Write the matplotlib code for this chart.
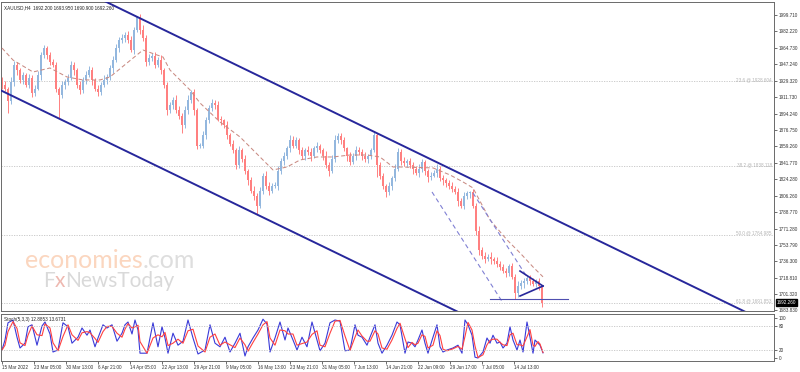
import numpy as np
import matplotlib
matplotlib.use("Agg")
import matplotlib.pyplot as plt

plt.rcParams['font.family'] = ['Liberation Sans', 'DejaVu Sans']

title = "XAUUSD,H4  1692.200 1693.950 1690.900 1692.260"

# H4 candles, one entry for every 3 bars of the chart
first_open = 1930.0
closes = [
    1925, 1921, 1908, 1928, 1946, 1941, 1930, 1935, 1925, 1932,
    1916, 1921, 1935, 1957, 1964, 1957, 1949, 1946, 1921, 1914,
    1925, 1928, 1932, 1946, 1941, 1925, 1919, 1930, 1935, 1941,
    1930, 1921, 1917, 1925, 1930, 1933, 1943, 1952, 1964, 1973,
    1975, 1978, 1973, 1962, 1984, 1997, 1984, 1975, 1949, 1954,
    1956, 1946, 1952, 1941, 1925, 1898, 1903, 1909, 1898, 1892,
    1882, 1898, 1909, 1917, 1898, 1860, 1860, 1871, 1887, 1900,
    1906, 1903, 1889, 1887, 1882, 1871, 1862, 1855, 1839, 1855,
    1846, 1833, 1823, 1812, 1806, 1796, 1812, 1828, 1817, 1812,
    1817, 1817, 1833, 1844, 1849, 1857, 1866, 1860, 1866, 1855,
    1849, 1855, 1853, 1849, 1857, 1860, 1855, 1849, 1839, 1833,
    1846, 1866, 1870, 1866, 1857, 1849, 1842, 1849, 1855, 1853,
    1849, 1846, 1849, 1855, 1871, 1839, 1828, 1817, 1810, 1817,
    1825, 1835, 1853, 1844, 1841, 1844, 1839, 1835, 1831, 1835,
    1842, 1833, 1826, 1828, 1831, 1835, 1825, 1823, 1820, 1817,
    1814, 1810, 1801, 1796, 1806, 1809, 1810, 1796, 1769, 1749,
    1742, 1739, 1741, 1739, 1737, 1734, 1730, 1726, 1724, 1731,
    1720, 1702, 1710, 1713, 1715, 1719, 1715, 1712, 1715, 1710,
    1692.26]
wick_up = [
    3, 4, 2, 5, 4, 3, 2, 4, 3, 5, 3, 4, 5, 3, 4, 2, 3, 4, 3, 2,
    4, 3, 5, 4, 3, 2, 4, 3, 5, 4, 3, 2, 4, 3, 5, 4, 3, 4, 5, 3,
    4, 3, 5, 4, 3, 2, 4, 5, 3, 4, 3, 4, 3, 5, 2, 3, 4, 3, 5, 4,
    3, 4, 5, 3, 4, 2, 3, 5, 4, 3, 4, 3, 5, 3, 2, 4, 3, 4, 3, 5,
    3, 4, 2, 3, 5, 3, 4, 3, 5, 4, 3, 4, 5, 3, 4, 3, 5, 4, 3, 2,
    4, 3, 5, 4, 3, 4, 2, 3, 5, 3, 4, 5, 3, 4, 3, 2, 4, 3, 5, 4,
    3, 4, 2, 3, 5, 3, 4, 3, 2, 4, 3, 5, 4, 3, 4, 2, 3, 4, 3, 5,
    4, 3, 2, 4, 3, 5, 3, 4, 2, 3, 4, 3, 5, 3, 4, 3, 2, 4, 3, 5,
    3, 4, 3, 5, 2, 4, 3, 4, 3, 2, 4, 3, 5, 3, 4, 2, 3, 4, 3, 4,
    1]
wick_dn = [
    4, 3, 13, 3, 4, 5, 3, 4, 2, 3, 4, 3, 2, 5, 3, 4, 3, 2, 4, 24,
    3, 4, 3, 2, 5, 3, 4, 3, 4, 2, 5, 3, 4, 3, 2, 4, 3, 5, 3, 4,
    3, 4, 3, 2, 4, 3, 5, 3, 4, 3, 4, 3, 2, 4, 3, 5, 3, 4, 3, 4,
    9, 3, 4, 3, 5, 4, 3, 2, 4, 3, 3, 4, 3, 5, 3, 4, 2, 3, 4, 3,
    4, 3, 5, 3, 4, 9, 3, 4, 3, 5, 3, 2, 4, 3, 5, 3, 4, 3, 2, 4,
    3, 4, 3, 5, 2, 4, 3, 4, 3, 5, 2, 4, 3, 4, 3, 5, 3, 2, 4, 3,
    4, 3, 5, 3, 2, 13, 4, 3, 5, 3, 4, 3, 2, 5, 3, 4, 3, 5, 2, 4,
    3, 4, 5, 3, 2, 4, 3, 5, 4, 3, 4, 2, 5, 3, 4, 3, 5, 3, 4, 6,
    3, 4, 2, 5, 3, 4, 3, 2, 4, 3, 3, 6, 4, 3, 5, 3, 4, 2, 3, 4,
    5]

# dashed moving average (bar, price)
ma_bars = [0, 11, 31, 48, 65, 81, 98, 108, 125, 141,
           155, 161, 168, 178, 188, 198, 218, 238, 258, 271,
           285, 298, 315, 331, 348, 365, 378, 391, 398, 431,
           448, 461, 471, 488, 505, 518, 531, 541]
ma_vals = [1964.3, 1951.5, 1938.7, 1943.0, 1933.4, 1930.2, 1930.2, 1933.4, 1948.3, 1962.2,
           1956.9, 1954.7, 1940.8, 1930.2, 1919.5, 1905.6, 1885.3, 1869.3, 1847.9, 1834.0,
           1837.2, 1844.7, 1847.9, 1847.9, 1850.0, 1850.0, 1847.9, 1837.2, 1837.2, 1836.2,
           1828.7, 1821.2, 1814.8, 1780.6, 1759.3, 1745.4, 1730.4, 1719.8]

fib_levels = ["23.6", "38.2", "50.0", "61.8"]
fib_prices = [1928.604, 1838.118, 1764.985, 1691.853]

# drawn objects, (bar, price) pairs
channel_top = [(134, 1998.2), (369, 1876.4)]
channel_bottom = [(-2, 1919.5), (256, 1785.9)]
dash_line_1 = [(430, 1810.5), (501, 1691.9)]
dash_line_2 = [(471, 1809.4), (525, 1719.6)]
triangle_top = [(518, 1726.0), (541, 1710.0)]
triangle_bottom = [(518, 1699.3), (541, 1710.0)]
support_line = [(488, 1696.1), (566, 1696.1)]

price_ticks = [1999.710, 1982.220, 1964.730, 1947.240, 1929.320, 1911.730, 1894.240,
               1876.750, 1859.260, 1841.770, 1824.280, 1806.260, 1788.770, 1771.280,
               1753.790, 1736.300, 1718.810, 1701.320, 1683.830]
last_price = 1692.260

date_labels = ["15 Mar 2022", "23 Mar 05:00", "30 Mar 13:00", "6 Apr 21:00", "14 Apr 05:00",
               "22 Apr 13:00", "29 Apr 21:00", "9 May 05:00", "16 May 13:00", "23 May 21:00",
               "31 May 05:00", "7 Jun 13:00", "14 Jun 21:00", "22 Jun 09:00", "29 Jun 17:00",
               "7 Jul 05:00", "14 Jul 13:00"]

stoch_label = "Stoch(5,3,3) 12.8853 13.6731"
stoch_bars = [0, 3, 6, 11, 15, 18, 23, 26, 30, 35,
              40, 43, 48, 51, 56, 61, 66, 70, 76, 80,
              85, 88, 93, 96, 101, 105, 110, 115, 120, 123,
              126, 130, 133, 136, 138, 145, 151, 156, 160, 163,
              166, 171, 176, 181, 186, 191, 196, 203, 208, 213,
              218, 223, 228, 233, 238, 243, 246, 251, 256, 261,
              265, 268, 273, 278, 283, 286, 291, 295, 300, 305,
              310, 315, 318, 323, 328, 333, 338, 343, 348, 353,
              356, 360, 365, 368, 373, 376, 380, 385, 390, 395,
              398, 403, 406, 410, 413, 416, 420, 423, 426, 431,
              435, 438, 441, 445, 451, 456, 460, 463, 466, 470,
              473, 476, 481, 485, 488, 491, 495, 498, 501, 505,
              508, 511, 515, 518, 521, 525, 528, 531, 533, 536,
              538, 541]
stoch_main = [20, 45, 88, 95, 52, 25, 37, 78, 83, 32,
              80, 90, 60, 15, 20, 88, 78, 37, 52, 75,
              57, 70, 28, 50, 83, 75, 83, 42, 62, 83,
              90, 60, 95, 70, 12, 12, 88, 28, 78, 50,
              12, 62, 32, 42, 95, 50, 10, 20, 83, 37,
              28, 52, 15, 37, 62, 5, 28, 50, 70, 97,
              85, 15, 50, 90, 45, 75, 45, 20, 52, 28,
              90, 45, 18, 37, 88, 95, 92, 18, 20, 83,
              57, 52, 32, 52, 83, 37, 12, 32, 57, 90,
              83, 12, 40, 37, 28, 45, 70, 37, 12, 52,
              83, 28, 15, 20, 25, 32, 12, 95, 83, 57,
              2, 0, 15, 50, 37, 57, 37, 40, 25, 37,
              78, 45, 20, 45, 15, 90, 52, 12, 45, 37,
              32, 12.89]
stoch_signal = [20, 32, 66, 91, 74, 38, 31, 57, 80, 58,
                56, 85, 75, 38, 18, 54, 83, 58, 44, 63,
                66, 63, 49, 39, 66, 79, 79, 62, 52, 72,
                86, 75, 78, 82, 41, 12, 50, 58, 53, 64,
                31, 37, 47, 37, 68, 72, 30, 15, 52, 60,
                32, 40, 33, 26, 50, 33, 17, 39, 60, 83,
                91, 50, 32, 70, 68, 60, 60, 32, 36, 40,
                59, 68, 32, 28, 62, 92, 94, 55, 19, 52,
                70, 55, 42, 42, 68, 60, 25, 22, 45, 74,
                87, 48, 26, 39, 33, 37, 58, 54, 25, 32,
                68, 56, 22, 18, 23, 29, 22, 54, 89, 70,
                30, 1, 8, 33, 44, 47, 47, 39, 33, 31,
                58, 62, 33, 33, 30, 53, 71, 32, 29, 41,
                35, 13.67]

SMALL = 3.3
FRAME = '#6a6a6a'
NAVY = '#27279b'

fig = plt.figure(figsize=(8, 3.72), dpi=100)
ax = fig.add_axes([0.00125, 0.164, 0.96625, 0.8306])
ax2 = fig.add_axes([0.00125, 0.0296, 0.96625, 0.1263])

# ---- candles
closes = np.array(closes, dtype=float)
opens = np.r_[first_open, closes[:-1]]
bars = np.arange(len(closes)) * 3
highs = np.maximum(opens, closes) + np.array(wick_up)
lows = np.minimum(opens, closes) - np.array(wick_dn)
colors = np.where(closes >= opens, '#93b7de', '#ff8080')
ax.vlines(bars, lows, highs, colors=colors, lw=0.7, zorder=2)
ax.bar(bars, np.maximum(np.abs(closes - opens), 0.9), bottom=np.minimum(opens, closes),
       width=2.6, color=colors, linewidth=0, zorder=2)

# ---- fibonacci levels
for lvl, p in zip(fib_levels, fib_prices):
    ax.axhline(p, color='#c4c4c4', lw=0.6, ls=(0, (1.5, 1.5)), zorder=1)
    ax.text(0.997, p + 1.8, "%s @ %.3f" % (lvl, p), transform=ax.get_yaxis_transform(),
            ha='right', va='center', fontsize=SMALL, color='#b4b4b4')

# ---- moving average
ax.plot(ma_bars, ma_vals, color='#c98b83', lw=0.75, ls=(0, (4, 2.5)), zorder=3)


def ray(pts, x0, x1):
    (xa, ya), (xb, yb) = pts
    k = (yb - ya) / (xb - xa)
    return [x0, x1], [ya + k * (x0 - xa), ya + k * (x1 - xa)]


for pts in (channel_top, channel_bottom):
    xs, ys = ray(pts, -5, 800)
    ax.plot(xs, ys, color=NAVY, lw=1.4, zorder=4)

for pts in (dash_line_1, dash_line_2):
    ax.plot(*zip(*pts), color='#8080d4', lw=0.8, ls=(0, (4, 3)), zorder=4)

for pts in (triangle_top, triangle_bottom):
    ax.plot(*zip(*pts), color=NAVY, lw=1.2, zorder=5)
ax.plot(*zip(*support_line), color='#4f4fb0', lw=0.8, zorder=5)

ax.set_xlim(-1, 772)
ax.set_ylim(1683.3, 2013.5)
ax.set_xticks([])
ax.yaxis.tick_right()
ax.set_yticks(price_ticks)
ax.set_yticklabels(["%.3f" % v for v in price_ticks])
ax.tick_params(axis='y', labelsize=SMALL, length=2, width=0.5, pad=1.5, colors='#333333')
for s in ax.spines.values():
    s.set_color(FRAME)
    s.set_linewidth(0.7)

ax.text(0.004, 0.982, title, transform=ax.transAxes, fontsize=SMALL, color='#222222',
        va='center', ha='left')

ax.text(1.004, last_price, "%.3f" % last_price, transform=ax.get_yaxis_transform(),
        fontsize=SMALL, color='white', va='center', ha='left',
        bbox=dict(boxstyle='square,pad=0.15', fc='black', ec='black'))

# ---- watermark
renderer = fig.canvas.get_renderer()


def text_run(x, y, parts, size):
    for s, c in parts:
        t = fig.text(x, y, s, color=c, fontsize=size, family=['Lato', 'DejaVu Sans'],
                     va='baseline', ha='left', zorder=0)
        x = t.get_window_extent(renderer=renderer).x1 / fig.bbox.width


text_run(0.031, 1 - 268 / 372, [("economies", '#fbd6bf'), (".com", '#dedede')], 18)
text_run(0.054, 1 - 287 / 372, [("F", '#d9d9d9'), ("x", '#eeb8b0'), ("NewsToday", '#d9d9d9')], 15)

# ---- stochastic
ax2.plot(stoch_bars, stoch_main, color='#3a3ad8', lw=0.8)
ax2.plot(stoch_bars, stoch_signal, color='#ff4040', lw=0.8)
for lvl in (80, 20):
    ax2.axhline(lvl, color='#c4c4c4', lw=0.6, ls=(0, (1.5, 1.5)))
ax2.set_xlim(-1, 772)
ax2.set_ylim(-7.5, 110)
ax2.yaxis.tick_right()
ax2.set_yticks([100, 80, 20, 0])
ax2.tick_params(axis='y', labelsize=SMALL, length=2, width=0.5, pad=1.5, colors='#333333')
ax2.set_xticks(np.arange(len(date_labels)) * 32)
ax2.set_xticklabels(date_labels, ha='left')
ax2.tick_params(axis='x', labelsize=SMALL, length=2, width=0.5, pad=1.2, colors='#333333')
for s in ax2.spines.values():
    s.set_color(FRAME)
    s.set_linewidth(0.7)
ax2.text(0.004, 0.89, stoch_label, transform=ax2.transAxes, fontsize=SMALL,
         color='#222222', va='center', ha='left')

fig.savefig("out.png", dpi=100, facecolor='white')
